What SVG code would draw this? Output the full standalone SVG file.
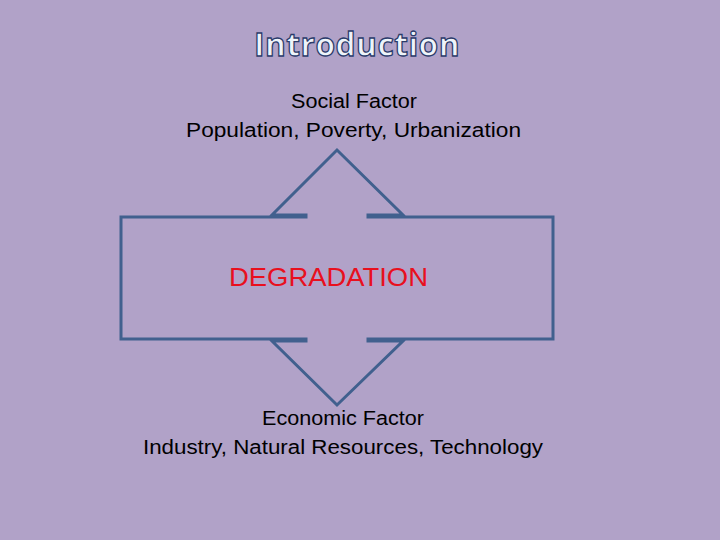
<svg xmlns="http://www.w3.org/2000/svg" width="720" height="540" viewBox="0 0 720 540">
<style>
.t{font-family:"Liberation Sans",Arial,sans-serif;font-size:20px;fill:#000;text-anchor:middle}
.title{font-family:"Open Sans","Liberation Sans",sans-serif;font-weight:bold;font-size:33px;fill:#EEF4FA;stroke:#2A3A6A;stroke-width:1.3;text-anchor:middle;letter-spacing:0.5px}
</style>
<rect width="720" height="540" fill="#B1A2C8"/>
<g id="title"><text class="title" x="357" y="56" textLength="206" lengthAdjust="spacingAndGlyphs">Introduction</text></g>
<g id="shape">
<path d="M121,217 H306 V215 H272 L337,150 L403,215 H368 V217 H553 V339 H368 V341 H403 L337,405 L272,341 H306 V339 H121 Z" fill="none" stroke="#41608E" stroke-width="3" stroke-linejoin="miter"/>
<text x="328.5" y="286" font-family="'Liberation Sans',Arial,sans-serif" font-size="26" fill="#E8101E" text-anchor="middle" textLength="199" lengthAdjust="spacingAndGlyphs">DEGRADATION</text>
</g>
<g id="social">
<text class="t" x="354" y="108" textLength="126" lengthAdjust="spacingAndGlyphs">Social Factor</text>
<text class="t" x="353.5" y="137" textLength="335" lengthAdjust="spacingAndGlyphs">Population, Poverty, Urbanization</text>
</g>
<g id="economic">
<text class="t" x="343" y="425" textLength="162" lengthAdjust="spacingAndGlyphs">Economic Factor</text>
<text class="t" x="343" y="454" textLength="400" lengthAdjust="spacingAndGlyphs">Industry, Natural Resources, Technology</text>
</g>
<g id="connectors"/>
</svg>
